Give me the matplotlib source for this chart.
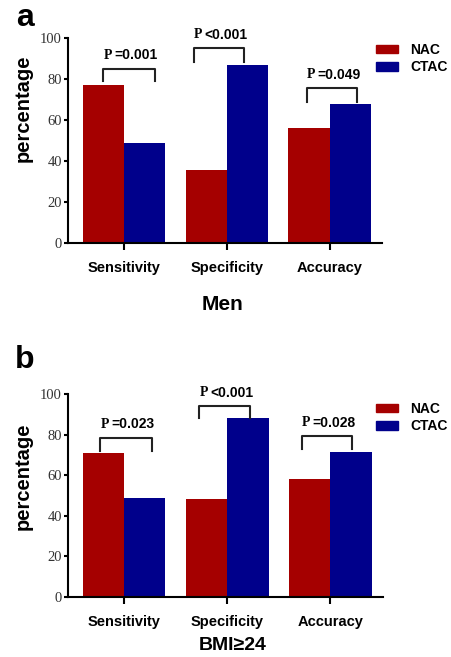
import numpy as np
import matplotlib

matplotlib.use("Agg")
import matplotlib.pyplot as plt
from matplotlib.patches import Patch

SANS = ["Liberation Sans", "DejaVu Sans"]
SERIF = ["Liberation Serif", "DejaVu Serif"]

categories = ["Sensitivity", "Specificity", "Accuracy"]
series_names = ["NAC", "CTAC"]
y_ticks = [0, 20, 40, 60, 80, 100]

men_nac = [77, 35.5, 56]
men_ctac = [49, 87, 68]
men_pvalues = ["=0.001", "<0.001", "=0.049"]
men_bracket_top = [85, 95, 75.5]
men_bracket_leg = [79, 88.5, 69]
men_bracket_x = [(-0.2, 0.3), (-0.32, 0.17), (-0.22, 0.27)]

bmi_nac = [71, 48.3, 58]
bmi_ctac = [49, 88, 71.5]
bmi_pvalues = ["=0.023", "<0.001", "=0.028"]
bmi_bracket_top = [78.5, 94, 79.3]
bmi_bracket_leg = [72, 88, 73]
bmi_bracket_x = [(-0.23, 0.27), (-0.27, 0.22), (-0.28, 0.21)]

RED = "#a50000"
BLUE = "#00008b"
W, H = 452, 657


def draw_panel(ax, nac, ctac, pvalues, tops, legs, bx):
    x = np.arange(len(categories))
    ax.bar(x - 0.2, nac, width=0.4, color=RED, edgecolor="none")
    ax.bar(x + 0.2, ctac, width=0.4, color=BLUE, edgecolor="none")
    ax.set_xlim(-0.545, 2.51)
    ax.set_ylim(0, 100)
    ax.set_yticks(y_ticks)
    ax.set_xticks(x)
    ax.set_xticklabels(categories, family=SANS, fontweight="bold", fontsize=10.5)
    for lab in ax.get_yticklabels():
        lab.set_family(SERIF)
        lab.set_fontsize(10.5)
        lab.set_color("#333333")
    ax.tick_params(axis="y", length=3, width=1.5, pad=1.5)
    ax.tick_params(axis="x", length=5, width=1.5, pad=8)
    for side in ("top", "right"):
        ax.spines[side].set_visible(False)
    for side in ("left", "bottom"):
        ax.spines[side].set_linewidth(1.5)

    for i in range(len(categories)):
        x0, x1 = i + bx[i][0], i + bx[i][1]
        ax.plot([x0, x0, x1, x1], [legs[i], tops[i], tops[i], legs[i]],
                color="#222222", lw=1.5, clip_on=False)
        ty = tops[i] + 6.5
        ax.text(x0, ty, "P", family=SERIF, fontweight="bold", fontsize=10,
                ha="left", va="center", clip_on=False)
        ax.text(x0 + 0.105, ty, pvalues[i], family=SANS, fontweight="bold",
                fontsize=10, ha="left", va="center", clip_on=False)


fig = plt.figure(figsize=(W / 100, H / 100), dpi=100)

ax_a = fig.add_axes([68 / W, 1 - 243 / H, 314 / W, 205 / H])
draw_panel(ax_a, men_nac, men_ctac, men_pvalues, men_bracket_top, men_bracket_leg, men_bracket_x)

ax_b = fig.add_axes([68 / W, 1 - 597 / H, 315 / W, 203 / H])
draw_panel(ax_b, bmi_nac, bmi_ctac, bmi_pvalues, bmi_bracket_top, bmi_bracket_leg, bmi_bracket_x)

handles = [Patch(color=RED), Patch(color=BLUE)]
for top in (43 / H, 402 / H):
    fig.legend(handles, series_names, loc="upper left",
               bbox_to_anchor=(376 / W, 1 - top), frameon=False,
               borderpad=0, borderaxespad=0, handlelength=1.6, handleheight=0.55,
               handletextpad=0.85, labelspacing=0.25,
               prop={"family": SANS, "weight": "bold", "size": 10})

fig.text(25 / W, 1 - 18 / H, "a", family=SANS, fontweight="bold", fontsize=23,
         ha="center", va="center")
fig.text(25 / W, 1 - 360 / H, "b", family=SANS, fontweight="bold", fontsize=23,
         ha="center", va="center")
fig.text(23 / W, 1 - 108 / H, "percentage", family=SANS, fontweight="bold",
         fontsize=14.5, rotation=90, ha="center", va="center")
fig.text(23 / W, 1 - 476 / H, "percentage", family=SANS, fontweight="bold",
         fontsize=14.5, rotation=90, ha="center", va="center")
fig.text(223 / W, 1 - 305 / H, "Men", family=SANS, fontweight="bold",
         fontsize=15, ha="center", va="center")
fig.text(233 / W, 1 - 645 / H, "BMI\u226524", family=SANS, fontweight="bold",
         fontsize=14, ha="center", va="center")

fig.savefig("out.png", dpi=100)
